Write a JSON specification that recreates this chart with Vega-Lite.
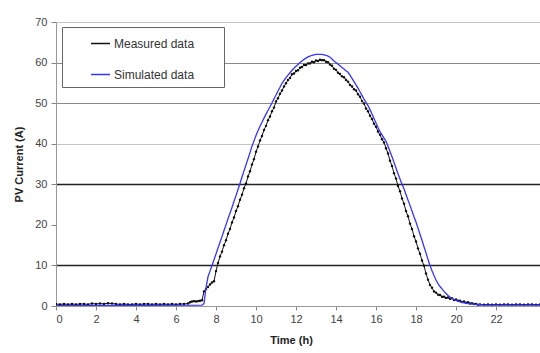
{
  "$schema": "https://vega.github.io/schema/vega-lite/v6.json",
  "width": 484,
  "height": 284,
  "autosize": {"type": "none"},
  "padding": {"left": 56, "top": 22, "right": 0, "bottom": 47},
  "background": "white",
  "config": {
    "view": {"stroke": null},
    "font": "Liberation Sans",
    "axis": {"labelFont": "Liberation Sans", "titleFont": "Liberation Sans", "labelColor": "#444", "titleColor": "#222", "labelFontSize": 11, "titleFontSize": 11, "titleFontWeight": "bold", "domainColor": "#999", "tickColor": "#888"},
    "legend": {"labelFont": "Liberation Sans"}
  },
  "datasets": {
    "meas": [
      {"t":0,"v":0.5},{"t":0.2,"v":0.4},{"t":0.4,"v":0.5},{"t":0.6,"v":0.4},{"t":0.8,"v":0.5},{"t":1.0,"v":0.4},{"t":1.2,"v":0.5},{"t":1.4,"v":0.5},{"t":1.6,"v":0.4},{"t":1.8,"v":0.6},
      {"t":2.0,"v":0.5},{"t":2.2,"v":0.6},{"t":2.4,"v":0.5},{"t":2.6,"v":0.7},{"t":2.8,"v":0.6},{"t":3.0,"v":0.5},{"t":3.2,"v":0.4},{"t":3.4,"v":0.5},{"t":3.6,"v":0.4},{"t":3.8,"v":0.4},
      {"t":4.0,"v":0.5},{"t":4.2,"v":0.4},{"t":4.4,"v":0.5},{"t":4.6,"v":0.5},{"t":4.8,"v":0.4},{"t":5.0,"v":0.5},{"t":5.2,"v":0.4},{"t":5.4,"v":0.5},{"t":5.6,"v":0.4},{"t":5.8,"v":0.5},
      {"t":6.0,"v":0.4},{"t":6.2,"v":0.5},{"t":6.4,"v":0.5},{"t":6.6,"v":0.6},{"t":6.7,"v":0.9},{"t":6.8,"v":1.1},{"t":6.9,"v":1.2},{"t":7.0,"v":1.1},{"t":7.1,"v":1.2},{"t":7.2,"v":1.3},
      {"t":7.3,"v":1.4},{"t":7.4,"v":3.6},{"t":7.5,"v":4.2},{"t":7.6,"v":4.7},{"t":7.7,"v":5.3},{"t":7.8,"v":5.8},{"t":7.9,"v":6.1},{"t":8.0,"v":8.6},{"t":8.1,"v":10.6},{"t":8.2,"v":12.2},
      {"t":8.3,"v":13.4},{"t":8.4,"v":15.0},{"t":8.5,"v":16.2},{"t":8.6,"v":17.8},{"t":8.7,"v":19.0},{"t":8.8,"v":20.6},{"t":8.9,"v":21.8},{"t":9.0,"v":23.4},{"t":9.1,"v":24.6},{"t":9.2,"v":26.2},
      {"t":9.3,"v":27.4},{"t":9.4,"v":29.0},{"t":9.5,"v":30.2},{"t":9.6,"v":31.9},{"t":9.7,"v":33.2},{"t":9.8,"v":34.9},{"t":9.9,"v":36.2},{"t":10.0,"v":38.0},{"t":10.1,"v":39.3},{"t":10.2,"v":40.8},
      {"t":10.3,"v":41.9},{"t":10.4,"v":43.4},{"t":10.5,"v":44.4},{"t":10.6,"v":45.8},{"t":10.7,"v":46.7},{"t":10.8,"v":48.0},{"t":10.9,"v":48.9},{"t":11.0,"v":50.4},{"t":11.1,"v":51.2},{"t":11.2,"v":52.3},
      {"t":11.3,"v":53.1},{"t":11.4,"v":54.1},{"t":11.5,"v":54.9},{"t":11.6,"v":55.7},{"t":11.7,"v":56.2},{"t":11.8,"v":57.1},{"t":11.9,"v":57.3},{"t":12.0,"v":57.9},{"t":12.1,"v":58.1},{"t":12.2,"v":58.7},
      {"t":12.3,"v":58.9},{"t":12.4,"v":59.4},{"t":12.5,"v":59.4},{"t":12.6,"v":59.8},{"t":12.7,"v":59.8},{"t":12.8,"v":60.2},{"t":12.9,"v":60.1},{"t":13.0,"v":60.5},{"t":13.1,"v":60.4},{"t":13.2,"v":60.7},
      {"t":13.3,"v":60.6},{"t":13.4,"v":60.6},{"t":13.5,"v":60.2},{"t":13.6,"v":60.1},{"t":13.7,"v":59.5},{"t":13.8,"v":59.2},{"t":13.9,"v":58.5},{"t":14.0,"v":58.2},{"t":14.1,"v":57.5},{"t":14.2,"v":57.2},
      {"t":14.3,"v":56.6},{"t":14.4,"v":56.4},{"t":14.5,"v":55.7},{"t":14.6,"v":55.3},{"t":14.7,"v":54.5},{"t":14.8,"v":54.1},{"t":14.9,"v":53.4},{"t":15.0,"v":53.1},{"t":15.1,"v":52.2},{"t":15.2,"v":51.6},
      {"t":15.3,"v":50.5},{"t":15.4,"v":49.9},{"t":15.5,"v":48.7},{"t":15.6,"v":48.0},{"t":15.7,"v":46.9},{"t":15.8,"v":46.1},{"t":15.9,"v":44.9},{"t":16.0,"v":44.2},{"t":16.1,"v":43.0},{"t":16.2,"v":42.2},
      {"t":16.3,"v":41.1},{"t":16.4,"v":40.3},{"t":16.5,"v":38.9},{"t":16.6,"v":37.6},{"t":16.7,"v":35.8},{"t":16.8,"v":34.5},{"t":16.9,"v":32.7},{"t":17.0,"v":31.4},{"t":17.1,"v":29.6},{"t":17.2,"v":28.3},
      {"t":17.3,"v":26.5},{"t":17.4,"v":25.2},{"t":17.5,"v":23.4},{"t":17.6,"v":22.1},{"t":17.7,"v":20.3},{"t":17.8,"v":19.0},{"t":17.9,"v":17.2},{"t":18.0,"v":15.9},{"t":18.1,"v":14.2},{"t":18.2,"v":12.9},
      {"t":18.3,"v":11.2},{"t":18.4,"v":9.9},{"t":18.5,"v":8.0},{"t":18.6,"v":6.5},{"t":18.7,"v":5.2},{"t":18.8,"v":4.5},{"t":18.9,"v":3.6},{"t":19.0,"v":3.3},{"t":19.1,"v":2.8},{"t":19.2,"v":2.7},
      {"t":19.3,"v":2.3},{"t":19.4,"v":2.3},{"t":19.5,"v":2.0},{"t":19.6,"v":2.1},{"t":19.7,"v":1.8},{"t":19.8,"v":1.9},{"t":19.9,"v":1.5},{"t":20.0,"v":1.6},{"t":20.1,"v":1.3},{"t":20.2,"v":1.3},
      {"t":20.3,"v":1.0},{"t":20.4,"v":1.1},{"t":20.5,"v":0.8},{"t":20.6,"v":0.9},{"t":20.7,"v":0.6},{"t":20.8,"v":0.7},{"t":20.9,"v":0.5},{"t":21.0,"v":0.5},{"t":21.1,"v":0.3},{"t":21.2,"v":0.4},
      {"t":21.4,"v":0.3},{"t":21.6,"v":0.4},{"t":21.8,"v":0.3},{"t":22.0,"v":0.4},{"t":22.2,"v":0.3},{"t":22.4,"v":0.4},{"t":22.6,"v":0.4},{"t":22.8,"v":0.3},{"t":23.0,"v":0.4},{"t":23.2,"v":0.4},
      {"t":23.4,"v":0.3},{"t":23.6,"v":0.4},{"t":23.8,"v":0.4},{"t":24.0,"v":0.3},{"t":24.2,"v":0.4}
    ],
    "sim": [
      {"t":0,"v":0.1},{"t":7.3,"v":0.2},{"t":7.4,"v":0.6},{"t":7.5,"v":4.5},{"t":7.6,"v":7.2},{"t":7.7,"v":8.6},{"t":7.8,"v":10.0},{"t":7.9,"v":11.4},{"t":8.0,"v":12.8},{"t":8.1,"v":14.3},
      {"t":8.2,"v":15.7},{"t":8.3,"v":17.1},{"t":8.4,"v":18.6},{"t":8.5,"v":20.0},{"t":8.6,"v":21.5},{"t":8.7,"v":22.9},{"t":8.8,"v":24.3},{"t":8.9,"v":25.8},{"t":9.0,"v":27.2},{"t":9.1,"v":28.7},
      {"t":9.2,"v":30.2},{"t":9.3,"v":31.8},{"t":9.4,"v":33.3},{"t":9.5,"v":34.8},{"t":9.6,"v":36.3},{"t":9.7,"v":37.8},{"t":9.8,"v":39.4},{"t":9.9,"v":40.7},{"t":10.0,"v":42.0},{"t":10.1,"v":43.2},
      {"t":10.2,"v":44.3},{"t":10.3,"v":45.3},{"t":10.4,"v":46.3},{"t":10.5,"v":47.3},{"t":10.6,"v":48.2},{"t":10.7,"v":49.1},{"t":10.8,"v":50.1},{"t":10.9,"v":51.1},{"t":11.0,"v":52.0},{"t":11.1,"v":53.0},
      {"t":11.2,"v":53.9},{"t":11.3,"v":54.9},{"t":11.4,"v":55.6},{"t":11.5,"v":56.3},{"t":11.6,"v":56.9},{"t":11.7,"v":57.5},{"t":11.8,"v":58.1},{"t":11.9,"v":58.6},{"t":12.0,"v":59.1},{"t":12.1,"v":59.5},
      {"t":12.2,"v":60.0},{"t":12.3,"v":60.4},{"t":12.4,"v":60.8},{"t":12.5,"v":61.1},{"t":12.6,"v":61.4},{"t":12.7,"v":61.6},{"t":12.8,"v":61.8},{"t":12.9,"v":61.9},{"t":13.0,"v":62.0},{"t":13.1,"v":62.0},
      {"t":13.2,"v":62.0},{"t":13.3,"v":62.0},{"t":13.4,"v":61.9},{"t":13.5,"v":61.8},{"t":13.6,"v":61.6},{"t":13.7,"v":61.3},{"t":13.8,"v":60.9},{"t":13.9,"v":60.4},{"t":14.0,"v":60.0},{"t":14.1,"v":59.6},
      {"t":14.2,"v":59.2},{"t":14.3,"v":58.8},{"t":14.4,"v":58.4},{"t":14.5,"v":58.0},{"t":14.6,"v":57.6},{"t":14.7,"v":56.9},{"t":14.8,"v":56.1},{"t":14.9,"v":55.3},{"t":15.0,"v":54.5},{"t":15.1,"v":53.7},
      {"t":15.2,"v":52.8},{"t":15.3,"v":51.9},{"t":15.4,"v":51.0},{"t":15.5,"v":50.2},{"t":15.6,"v":49.4},{"t":15.7,"v":48.4},{"t":15.8,"v":47.3},{"t":15.9,"v":46.2},{"t":16.0,"v":45.1},{"t":16.1,"v":44.0},
      {"t":16.2,"v":43.0},{"t":16.3,"v":42.2},{"t":16.4,"v":41.4},{"t":16.5,"v":40.6},{"t":16.6,"v":39.4},{"t":16.7,"v":38.1},{"t":16.8,"v":36.8},{"t":16.9,"v":35.4},{"t":17.0,"v":34.0},{"t":17.1,"v":32.6},
      {"t":17.2,"v":31.3},{"t":17.3,"v":30.0},{"t":17.4,"v":28.9},{"t":17.5,"v":27.5},{"t":17.6,"v":26.1},{"t":17.7,"v":24.8},{"t":17.8,"v":23.4},{"t":17.9,"v":22.0},{"t":18.0,"v":20.7},{"t":18.1,"v":19.2},
      {"t":18.2,"v":17.7},{"t":18.3,"v":16.2},{"t":18.4,"v":14.6},{"t":18.5,"v":13.1},{"t":18.6,"v":11.5},{"t":18.7,"v":10.0},{"t":18.8,"v":8.7},{"t":18.9,"v":7.5},{"t":19.0,"v":6.4},{"t":19.1,"v":5.5},
      {"t":19.2,"v":4.8},{"t":19.3,"v":4.2},{"t":19.4,"v":3.6},{"t":19.5,"v":3.1},{"t":19.6,"v":2.6},{"t":19.7,"v":2.2},{"t":19.8,"v":1.9},{"t":19.9,"v":1.6},{"t":20.0,"v":1.4},{"t":20.1,"v":1.2},
      {"t":20.2,"v":1.0},{"t":20.3,"v":0.9},{"t":20.4,"v":0.8},{"t":20.6,"v":0.6},{"t":20.8,"v":0.5},{"t":21.0,"v":0.4},{"t":21.2,"v":0.3},{"t":21.4,"v":0.2},{"t":24.2,"v":0.2}
    ]
  },
  "encoding": {
    "x": {"field": "t", "type": "quantitative", "scale": {"domain": [0, 24.2], "nice": false, "zero": false},
      "axis": {"title": "Time (h)", "values": [0,2,4,6,8,10,12,14,16,18,20,22], "grid": false, "tickSize": 4, "labelPadding": 3, "titlePadding": 10, "titleX": 235}},
    "y": {"field": "v", "type": "quantitative", "scale": {"domain": [0, 70], "nice": false},
      "axis": {"title": "PV Current (A)", "values": [0,10,20,30,40,50,60,70], "tickSize": 5, "labelPadding": 4, "titlePadding": 10,
        "grid": true,
        "gridColor": {"condition": [{"test": "datum.value == 10 || datum.value == 30", "value": "#222"}, {"test": "datum.value == 50 || datum.value == 60", "value": "#8a8a8a"}], "value": "#c4c4c4"},
        "gridOpacity": {"condition": {"test": "datum.value == 20 || datum.value == 0", "value": 0}, "value": 1},
        "gridWidth": {"condition": {"test": "datum.value == 10 || datum.value == 30", "value": 1.3}, "value": 1.2}}},
    "color": {"type": "nominal", "scale": {"domain": ["Measured data", "Simulated data"], "range": ["#111111", "#3535ff"]},
      "legend": {"title": "xxxx", "titleOrient": "right", "titleFontSize": 12, "titleFontWeight": "normal", "titleOpacity": 0, "titlePadding": 0, "orient": "none", "legendX": 6, "legendY": 5, "symbolType": "stroke", "symbolSize": 360, "symbolStrokeWidth": 1.5,
        "labelFontSize": 12, "labelColor": "#333", "labelOffset": 3, "strokeColor": "#666", "fillColor": "white", "padding": 6, "rowPadding": 14, "symbolOffset": 22}}
  },
  "layer": [
    {"data": {"name": "meas"}, "mark": {"type": "line", "strokeWidth": 1, "clip": true, "point": {"filled": true, "size": 6, "color": "#111"}},
     "encoding": {"color": {"datum": "Measured data"}}},
    {"data": {"name": "sim"}, "mark": {"type": "line", "strokeWidth": 1.3, "clip": true},
     "encoding": {"color": {"datum": "Simulated data"}}}
  ]
}
